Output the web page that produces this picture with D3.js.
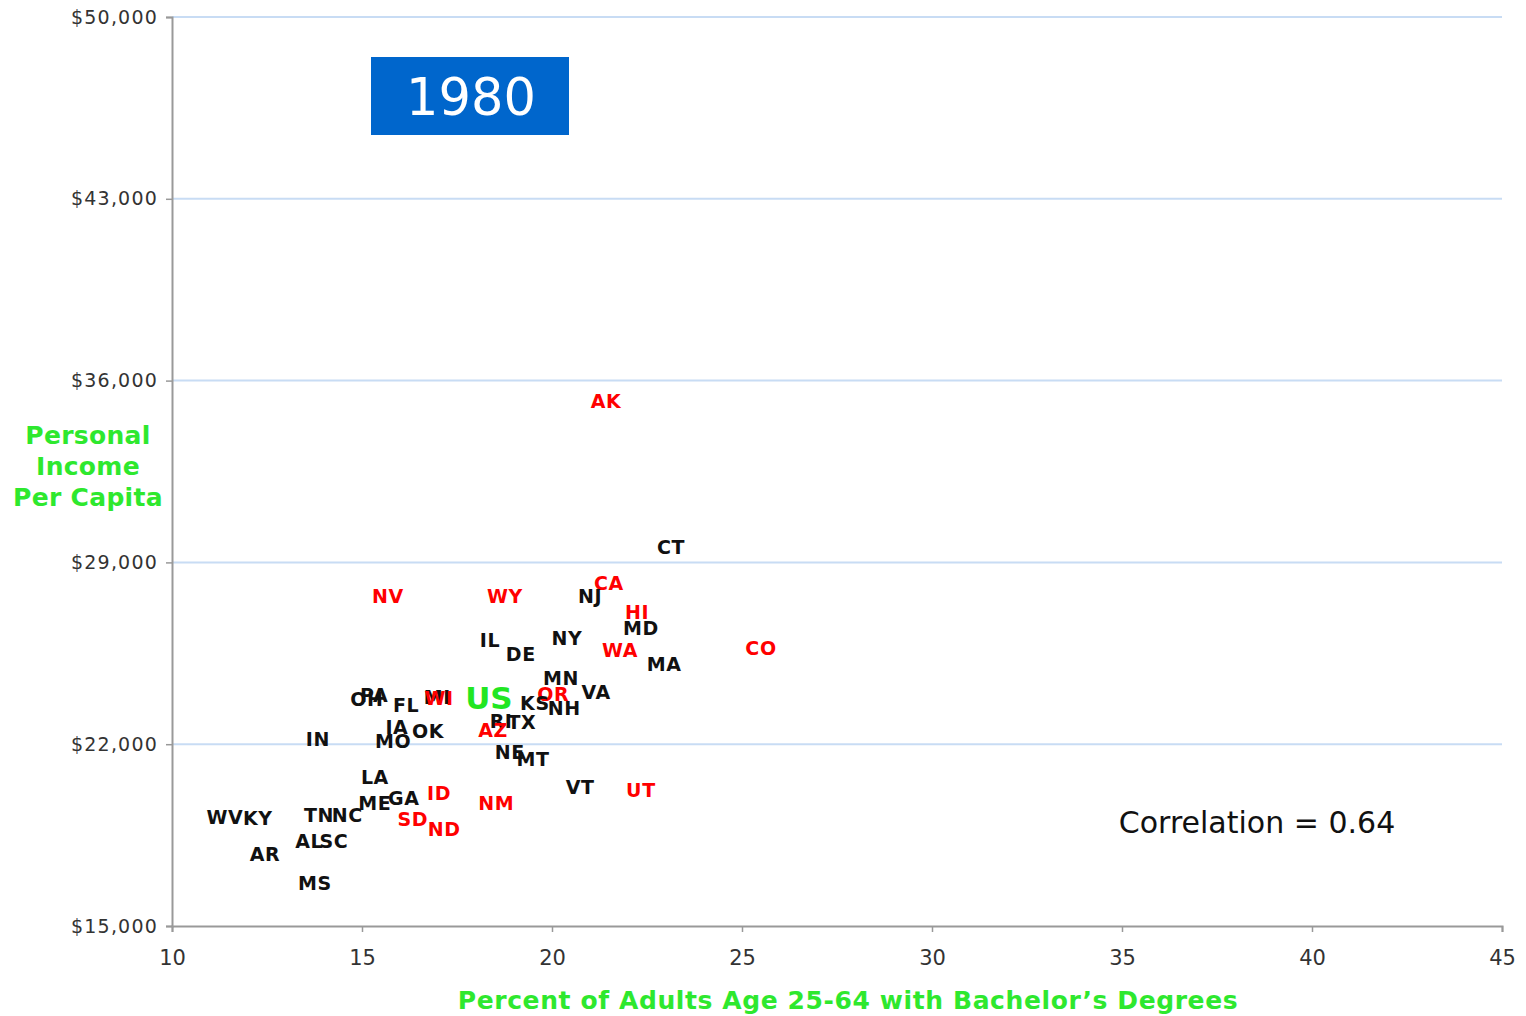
<!DOCTYPE html>
<html>
<head>
<meta charset="utf-8">
<script src="https://cdn.jsdelivr.net/npm/d3@7"></script>
<style>
  body { margin: 0; background: #fff; }
  svg { display: block; font-family: "DejaVu Sans", Verdana, sans-serif; }
</style>
</head>
<body>
<div id="chart"></div>
<script>
// state codes, % adults 25-64 with BA, personal income per capita (1980)
var states  = ['AK','CT','CA','NV','WY','NJ','HI','MD','IL','NY','DE','WA','CO','MA','MN','VA','OR','KS','NH',
               'OH','PA','FL','MI','WI','RI','TX','AZ','IA','OK','IN','MO','NE','MT','LA','VT','UT','ID','NM',
               'ME','GA','WV','KY','TN','NC','SD','ND','AL','SC','AR','MS','US'];
var degrees = [21.42,23.13,21.5,15.68,18.76,21.0,22.24,22.34,18.37,20.39,19.18,21.79,25.5,22.95,20.24,21.16,20.03,19.55,20.32,
               15.13,15.32,16.16,16.98,17.03,18.66,19.21,18.45,15.92,16.74,13.84,15.82,18.89,19.5,15.34,20.74,22.34,17.03,18.53,
               15.34,16.1,11.39,12.26,13.87,14.61,16.34,17.16,13.61,14.26,12.45,13.76,18.34];
var income  = [35210,29590,28210,27710,27710,27710,27090,26470,26010,26090,25470,25630,25700,25090,24550,24010,23930,23590,23390,
               23740,23890,23510,23800,23780,22890,22850,22550,22660,22510,22200,22120,21700,21430,20740,20350,20240,20120,19740,
               19740,19930,19200,19160,19270,19270,19120,18740,18270,18270,17770,16660,23780];
// W = WICHE (western) states, shown in red
var region  = ['W','E','W','W','W','E','W','E','E','E','E','W','W','E','E','E','W','E','E',
               'E','E','E','E','W','E','E','W','E','E','E','E','E','E','E','E','W','W','W',
               'E','E','E','E','E','E','W','W','E','E','E','E','US'];

var xTicks = [10, 15, 20, 25, 30, 35, 40, 45];
var yTicks = [15000, 22000, 29000, 36000, 43000, 50000];
var yearLabel = '1980';
var corrLabel = 'Correlation = 0.64';

var W = 1526, H = 1016;
var margin = {top: 17, right: 24, bottom: 90, left: 172};
var width = W - margin.left - margin.right,
    height = H - margin.top - margin.bottom;

var svg = d3.select('#chart').append('svg')
    .attr('width', W)
    .attr('height', H);

var g = svg.append('g')
    .attr('transform', 'translate(' + margin.left + ',' + margin.top + ')');

var x = d3.scaleLinear().domain([10, 45]).range([0, width]);
var y = d3.scaleLinear().domain([15000, 50000]).range([height, 0]);

// gridlines
g.append('g')
    .selectAll('line')
    .data(yTicks.slice(1))
    .enter().append('line')
    .attr('x1', 0).attr('x2', width)
    .attr('y1', d => y(d)).attr('y2', d => y(d))
    .attr('stroke', '#c8dcf4')
    .attr('stroke-width', 2);

var fmt = d => '$' + d3.format(',')(d);

var yAxis = g.append('g')
    .call(d3.axisLeft(y).tickValues(yTicks).tickFormat(fmt).tickSize(6).tickPadding(8));
var xAxis = g.append('g')
    .attr('transform', 'translate(0,' + height + ')')
    .call(d3.axisBottom(x).tickValues(xTicks).tickSize(6).tickPadding(18));

[xAxis, yAxis].forEach(function(a) {
    a.select('.domain').attr('stroke', '#999').attr('stroke-width', 2);
    a.selectAll('.tick line').attr('stroke', '#999').attr('stroke-width', 1.5);
    a.selectAll('.tick text').attr('fill', '#333').attr('font-family', '"DejaVu Sans", Verdana, sans-serif');
});
yAxis.selectAll('.tick text').attr('font-size', 19).attr('letter-spacing', 1.2);
xAxis.selectAll('.tick text').attr('font-size', 21);

// year box
svg.append('rect')
    .attr('x', 371).attr('y', 57)
    .attr('width', 198).attr('height', 78)
    .attr('fill', '#0066cc');
svg.append('text')
    .attr('x', 471).attr('y', 97)
    .attr('dy', '0.36em')
    .attr('text-anchor', 'middle')
    .attr('fill', '#fff')
    .attr('font-size', 51)
    .text(yearLabel);

// point labels
var pts = states.map((s, i) => ({s: s, x: degrees[i], y: income[i], r: region[i]}));
g.selectAll('.lbl')
    .data(pts)
    .enter().append('text')
    .attr('class', 'lbl')
    .attr('x', d => x(d.x))
    .attr('y', d => y(d.y))
    .attr('dy', '0.36em')
    .attr('text-anchor', 'middle')
    .attr('font-weight', 'bold')
    .attr('font-size', d => d.r == 'US' ? 31 : 19)
    .attr('letter-spacing', d => d.r == 'US' ? 0 : 0.6)
    .attr('fill', d => d.r == 'US' ? '#22e622' : (d.r == 'W' ? '#ff0000' : '#111'))
    .text(d => d.s);

// correlation
svg.append('text')
    .attr('x', 1257).attr('y', 822)
    .attr('dy', '0.36em')
    .attr('text-anchor', 'middle')
    .attr('font-size', 30)
    .attr('fill', '#111')
    .text(corrLabel);

// axis titles
var green = '#2ee82e';
var yt = svg.append('text')
    .attr('text-anchor', 'middle')
    .attr('font-weight', 'bold')
    .attr('font-size', 25)
    .attr('letter-spacing', 0.3)
    .attr('fill', green);
['Personal', 'Income', 'Per Capita'].forEach(function(t, i) {
    yt.append('tspan').attr('x', 88).attr('y', 444 + i * 31).text(t);
});

svg.append('text')
    .attr('x', 848).attr('y', 1009)
    .attr('text-anchor', 'middle')
    .attr('font-weight', 'bold')
    .attr('font-size', 25)
    .attr('letter-spacing', 0.6)
    .attr('fill', green)
    .text('Percent of Adults Age 25-64 with Bachelor\u2019s Degrees');
</script>
</body>
</html>
